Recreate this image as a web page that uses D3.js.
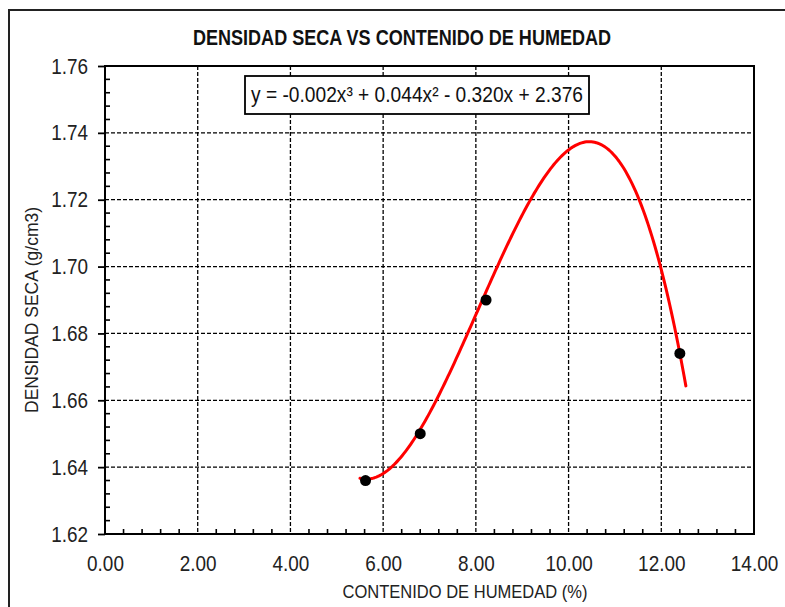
<!DOCTYPE html>
<html>
<head>
<meta charset="utf-8">
<script src="https://cdn.jsdelivr.net/npm/d3@7"></script>
<style>
  body { margin: 0; background: #fff; }
  svg { display: block; }
  text { font-family: "Liberation Sans", Arial, sans-serif; }
</style>
</head>
<body>
<svg id="chart" width="785" height="607"></svg>
<script>
// Compaction test: moisture content (%) vs dry density (g/cm3)
const moisture   = [5.62, 6.80, 8.22, 12.40];
const dryDensity = [1.636, 1.650, 1.690, 1.674];

// Cubic trend line coefficients: x^3, x^2, x, constant
const trendCoefs = [-0.0018116, 0.043705, -0.320, 2.376];
const trendRange = [5.50, 12.53];

const xTicks = [0, 2, 4, 6, 8, 10, 12, 14];
const yTicks = [1.62, 1.64, 1.66, 1.68, 1.70, 1.72, 1.74, 1.76];

const chartTitle = "DENSIDAD SECA VS CONTENIDO DE HUMEDAD";
const xTitle = "CONTENIDO DE HUMEDAD (%)";
const yTitle = "DENSIDAD SECA (g/cm3)";

const W = 785, H = 607;
const plot = { left: 105, right: 754, top: 66, bottom: 534 };

// condensed look: shrink each text run horizontally by a factor
function squeeze(sel, k) {
  sel.each(function () {
    const w = this.getComputedTextLength();
    this.setAttribute("textLength", (w * k).toFixed(1));
    this.setAttribute("lengthAdjust", "spacingAndGlyphs");
  });
}

const svg = d3.select("#chart");

svg.append("rect").attr("width", W).attr("height", H).attr("fill", "#fff");

// outer chart frame
svg.append("rect")
  .attr("x", 9).attr("y", 10)
  .attr("width", W + 20).attr("height", H + 20)
  .attr("fill", "none").attr("stroke", "#222").attr("stroke-width", 2);

const x = d3.scaleLinear().domain([0, 14]).range([plot.left, plot.right]);
const y = d3.scaleLinear().domain([1.62, 1.76]).range([plot.bottom, plot.top]);

// dashed gridlines
const grid = svg.append("g").attr("stroke", "#000").attr("stroke-width", 1.3)
  .attr("stroke-dasharray", "4,2");
grid.selectAll("line.v").data(xTicks.slice(1, -1)).join("line").attr("class", "v")
  .attr("x1", d => x(d)).attr("x2", d => x(d))
  .attr("y1", plot.top).attr("y2", plot.bottom);
grid.selectAll("line.h").data(yTicks.slice(1, -1)).join("line").attr("class", "h")
  .attr("y1", d => y(d)).attr("y2", d => y(d))
  .attr("x1", plot.left).attr("x2", plot.right);

// minor ticks (inside the plot)
const xMinor = d3.range(0, 14.001, 0.4).filter(v => Math.abs(v / 2 - Math.round(v / 2)) > 1e-6);
const yMinor = d3.range(1.62, 1.7601, 0.004).filter(v => Math.abs((v - 1.62) / 0.02 - Math.round((v - 1.62) / 0.02)) > 1e-6);
const minor = svg.append("g").attr("stroke", "#000").attr("stroke-width", 1.6);
minor.selectAll("line.xm").data(xMinor).join("line").attr("class", "xm")
  .attr("x1", d => x(d)).attr("x2", d => x(d))
  .attr("y1", plot.bottom).attr("y2", plot.bottom - 5);
minor.selectAll("line.ym").data(yMinor).join("line").attr("class", "ym")
  .attr("y1", d => y(d)).attr("y2", d => y(d))
  .attr("x1", plot.left).attr("x2", plot.left + 5);

// axes
const yAxis = d3.axisLeft(y).tickValues(yTicks).tickFormat(d3.format(".2f"))
  .tickSize(7).tickPadding(10);
const gy = svg.append("g").attr("transform", `translate(${plot.left},0)`).call(yAxis);
gy.select(".domain").remove();
gy.selectAll(".tick line").attr("stroke", "#000").attr("stroke-width", 1.8);
gy.selectAll(".tick text").attr("font-family", "'Liberation Sans', Arial, sans-serif")
  .attr("font-size", 22).attr("fill", "#222").call(squeeze, 0.86);

const xAxis = d3.axisBottom(x).tickValues(xTicks).tickFormat(d3.format(".2f"))
  .tickSize(0).tickPadding(21);
const gx = svg.append("g").attr("transform", `translate(0,${plot.bottom})`).call(xAxis);
gx.select(".domain").remove();
gx.selectAll(".tick text").attr("font-family", "'Liberation Sans', Arial, sans-serif")
  .attr("font-size", 22).attr("fill", "#222").call(squeeze, 0.86);

// plot frame
svg.append("rect")
  .attr("x", plot.left).attr("y", plot.top)
  .attr("width", plot.right - plot.left).attr("height", plot.bottom - plot.top)
  .attr("fill", "none").attr("stroke", "#000").attr("stroke-width", 2);

// trend line
const poly = v => ((trendCoefs[0] * v + trendCoefs[1]) * v + trendCoefs[2]) * v + trendCoefs[3];
const trendX = d3.range(trendRange[0], trendRange[1] + 1e-9, (trendRange[1] - trendRange[0]) / 200);
svg.append("path")
  .datum(trendX)
  .attr("fill", "none").attr("stroke", "#ff0000").attr("stroke-width", 3)
  .attr("stroke-linejoin", "round").attr("stroke-linecap", "round")
  .attr("d", d3.line().x(d => x(d)).y(d => y(poly(d))));

// data points
svg.append("g").selectAll("circle").data(moisture).join("circle")
  .attr("cx", d => x(d)).attr("cy", (d, i) => y(dryDensity[i]))
  .attr("r", 5.5).attr("fill", "#000");

// equation box
const fmt = v => Math.abs(v).toFixed(3);
const sgn = v => (v < 0 ? "-" : "+");
const eqText = `y = ${trendCoefs[0] < 0 ? "-" : ""}${fmt(trendCoefs[0])}x³ ${sgn(trendCoefs[1])} ${fmt(trendCoefs[1])}x² ${sgn(trendCoefs[2])} ${fmt(trendCoefs[2])}x ${sgn(trendCoefs[3])} ${fmt(trendCoefs[3])}`;
svg.append("rect")
  .attr("x", 245).attr("y", 76).attr("width", 344).attr("height", 38)
  .attr("fill", "#fff").attr("stroke", "#000").attr("stroke-width", 1.8);
svg.append("text")
  .attr("x", 417).attr("y", 102).attr("text-anchor", "middle")
  .attr("font-size", 22).attr("fill", "#111")
  .text(eqText)
  .attr("textLength", 332).attr("lengthAdjust", "spacingAndGlyphs");

// titles
svg.append("text")
  .attr("x", 402).attr("y", 45).attr("text-anchor", "middle")
  .attr("font-size", 22).attr("font-weight", "bold").attr("fill", "#111")
  .text(chartTitle)
  .attr("textLength", 418).attr("lengthAdjust", "spacingAndGlyphs");

svg.append("text")
  .attr("x", 465).attr("y", 598).attr("text-anchor", "middle")
  .attr("font-size", 19).attr("fill", "#222")
  .text(xTitle)
  .attr("textLength", 245).attr("lengthAdjust", "spacingAndGlyphs");

svg.append("text")
  .attr("transform", "translate(38,310) rotate(-90)")
  .attr("text-anchor", "middle")
  .attr("font-size", 17.5).attr("fill", "#222")
  .text(yTitle)
  .attr("textLength", 206).attr("lengthAdjust", "spacingAndGlyphs");
</script>
</body>
</html>
